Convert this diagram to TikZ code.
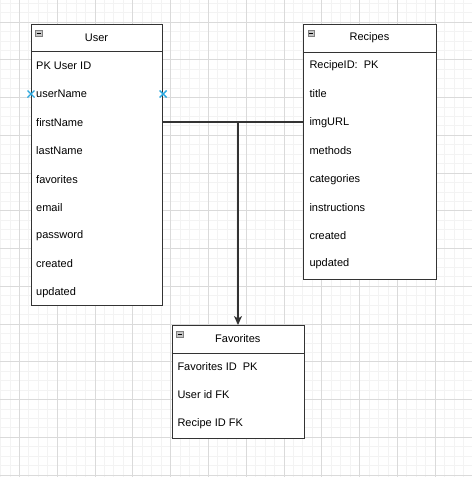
\documentclass[tikz,border=0pt]{standalone}
\usepackage{fontspec}
\setmainfont{Liberation Sans}
\usetikzlibrary{arrows.meta}
\definecolor{gmaj}{HTML}{DADADA}
\definecolor{gmin}{HTML}{F3F3F3}
\definecolor{edge}{HTML}{333333}
\definecolor{xblue}{HTML}{29A8E0}
\definecolor{icon}{HTML}{A0A0A0}
\tikzset{
  tbl/.style={draw=edge, line width=1.1pt, fill=white, rectangle, inner sep=0pt, anchor=north west},
  field/.style={anchor=west, inner sep=0pt, font=\fontsize{11}{13}\selectfont, text=black},
  title/.style={inner sep=0pt, font=\fontsize{11}{13}\selectfont, text=black},
  conn/.style={draw=edge, line width=1.5pt},
  minusicon/.style={draw=icon!80!black, fill=icon!60, line width=0.5pt, minimum size=6.5pt, inner sep=0pt, rectangle},
  xmark/.style={draw=xblue, line width=1.4pt},
}
\begin{document}
\begin{tikzpicture}[x=1pt,y=-1pt]
\useasboundingbox (0,0) rectangle (472,477);
\fill[white] (0,0) rectangle (472,477);
% grid
\foreach \i in {0,...,50} {
  \draw[gmin, line width=0.7pt] (0.4+9.45*\i,0) -- (0.4+9.45*\i,477);
  \draw[gmin, line width=0.7pt] (0,3.1+9.4375*\i) -- (472,3.1+9.4375*\i);
}
\foreach \i in {0,...,12} {
  \draw[gmaj, line width=0.8pt] (19.3+37.8*\i,0) -- (19.3+37.8*\i,477);
  \draw[gmaj, line width=0.8pt] (0,22+37.75*\i) -- (472,22+37.75*\i);
}
% User table
\node[tbl, minimum width=131pt, minimum height=281pt] (user) at (31,24) {};
\draw[edge, line width=1.1pt] (31,51.7) -- (162,51.7);
\node[minusicon] (uicon) at (38.5,33) {};
\draw[black, line width=0.7pt] (36.5,33) -- (40.5,33);
\node[title] (utitle) at (96.5,38) {User};
\node[field] (u1) at (36,65.5) {PK User ID};
\node[field] (u2) at (36,94) {userName};
\node[field] (u3) at (36,122.5) {firstName};
\node[field] (u4) at (36,151) {lastName};
\node[field] (u5) at (36,179.5) {favorites};
\node[field] (u6) at (36,207.5) {email};
\node[field] (u7) at (36,236) {password};
\node[field] (u8) at (36,264) {created};
\node[field] (u9) at (36,292.5) {updated};
% Recipes table
\node[tbl, minimum width=132.5pt, minimum height=254.5pt] (rec) at (303.3,24) {};
\draw[edge, line width=1.1pt] (303.3,52.3) -- (435.8,52.3);
\node[minusicon] (ricon) at (311,33) {};
\draw[black, line width=0.7pt] (309,33) -- (313,33);
\node[title] (rtitle) at (369.5,38) {Recipes};
\node[field] (r1) at (309.3,65.5) {RecipeID:\ \ PK};
\node[field] (r2) at (309.3,94) {title};
\node[field] (r3) at (309.3,122.5) {imgURL};
\node[field] (r4) at (309.3,151) {methods};
\node[field] (r5) at (309.3,179.5) {categories};
\node[field] (r6) at (309.3,207.5) {instructions};
\node[field] (r7) at (309.3,236) {created};
\node[field] (r8) at (309.3,264) {updated};
% Favorites table
\node[tbl, minimum width=132.3pt, minimum height=112.7pt] (fav) at (171.7,325) {};
\draw[edge, line width=1.1pt] (171.7,353.3) -- (304,353.3);
\node[minusicon] (ficon) at (179.5,334) {};
\draw[black, line width=0.7pt] (177.5,334) -- (181.5,334);
\node[title] (ftitle) at (237.8,339) {Favorites};
\node[field] (f1) at (177.3,366.5) {Favorites ID\ \ PK};
\node[field] (f2) at (177.3,395) {User id FK};
\node[field] (f3) at (177.3,423.5) {Recipe ID FK};
% connectors
\coordinate (j) at (238,122);
\draw[conn, line width=1.2pt] (user.east |- j) -- (rec.west |- j);
\draw[conn, -{Stealth[length=9pt,width=8pt,inset=2.5pt]}] (j) -- (j |- fav.north);
% connection markers
\coordinate (xl) at (user.west |- u2);
\coordinate (xr) at (user.east |- u2);
\draw[xmark] ([shift={(-3.5,-3.5)}]xl) -- ([shift={(3.5,3.5)}]xl) ([shift={(-3.5,3.5)}]xl) -- ([shift={(3.5,-3.5)}]xl);
\draw[xmark] ([shift={(-3.5,-3.5)}]xr) -- ([shift={(3.5,3.5)}]xr) ([shift={(-3.5,3.5)}]xr) -- ([shift={(3.5,-3.5)}]xr);
\end{tikzpicture}
\end{document}
